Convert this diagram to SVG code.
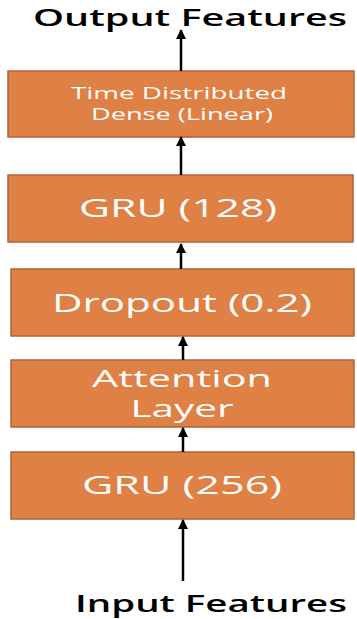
<svg xmlns="http://www.w3.org/2000/svg" width="357" height="619" viewBox="0 0 357 619">
<style>
.box{fill:#DF8045;stroke:#AE6238;stroke-width:1.5}
.bt{fill:#ffffff;font-family:"Open Sans","DejaVu Sans",sans-serif;font-weight:500;text-anchor:middle}
.lbl{fill:#000000;font-family:"Open Sans","DejaVu Sans",sans-serif;font-weight:600;text-anchor:middle}
.conn line{stroke:#000;stroke-width:2.5;marker-end:url(#ah)}
</style>
<defs>
<marker id="ah" viewBox="0 0 10 10" refX="9" refY="5" markerWidth="4" markerHeight="4" markerUnits="strokeWidth" orient="auto">
<path d="M0,0 L10,5 L0,10 z" fill="#000"/>
</marker>
</defs>
<rect width="357" height="619" fill="#ffffff"/>
<g id="label-output"><text class="lbl" x="190" y="26" font-size="23" textLength="314" lengthAdjust="spacingAndGlyphs">Output Features</text></g>
<g id="label-input"><text class="lbl" x="211" y="612" font-size="23" textLength="272" lengthAdjust="spacingAndGlyphs">Input Features</text></g>
<g id="node-dense">
<rect class="box" x="8" y="71" width="346" height="66"/>
<text class="bt" x="179" y="99" font-size="16" textLength="216" lengthAdjust="spacingAndGlyphs">Time Distributed</text>
<text class="bt" x="182" y="120" font-size="16" textLength="182" lengthAdjust="spacingAndGlyphs">Dense (Linear)</text>
</g>
<g id="node-gru128">
<rect class="box" x="8" y="175" width="345" height="67"/>
<text class="bt" x="178" y="217" font-size="26" textLength="198" lengthAdjust="spacingAndGlyphs">GRU (128)</text>
</g>
<g id="node-dropout">
<rect class="box" x="11" y="269" width="343" height="67"/>
<text class="bt" x="182" y="312" font-size="26" textLength="260" lengthAdjust="spacingAndGlyphs">Dropout (0.2)</text>
</g>
<g id="node-attention">
<rect class="box" x="11" y="360" width="343" height="67"/>
<text class="bt" x="182" y="387" font-size="23" textLength="180" lengthAdjust="spacingAndGlyphs">Attention</text>
<text class="bt" x="182" y="417" font-size="23" textLength="103" lengthAdjust="spacingAndGlyphs">Layer</text>
</g>
<g id="node-gru256">
<rect class="box" x="11" y="452" width="343" height="67"/>
<text class="bt" x="182" y="494" font-size="26" textLength="200" lengthAdjust="spacingAndGlyphs">GRU (256)</text>
</g>
<g class="conn" id="connectors">
<line x1="181" y1="71" x2="181" y2="30"/>
<line x1="181" y1="175" x2="181" y2="137"/>
<line x1="181" y1="269" x2="181" y2="244"/>
<line x1="183" y1="360" x2="183" y2="337"/>
<line x1="183" y1="452" x2="183" y2="428"/>
<line x1="183" y1="581" x2="183" y2="520"/>
</g>
</svg>
